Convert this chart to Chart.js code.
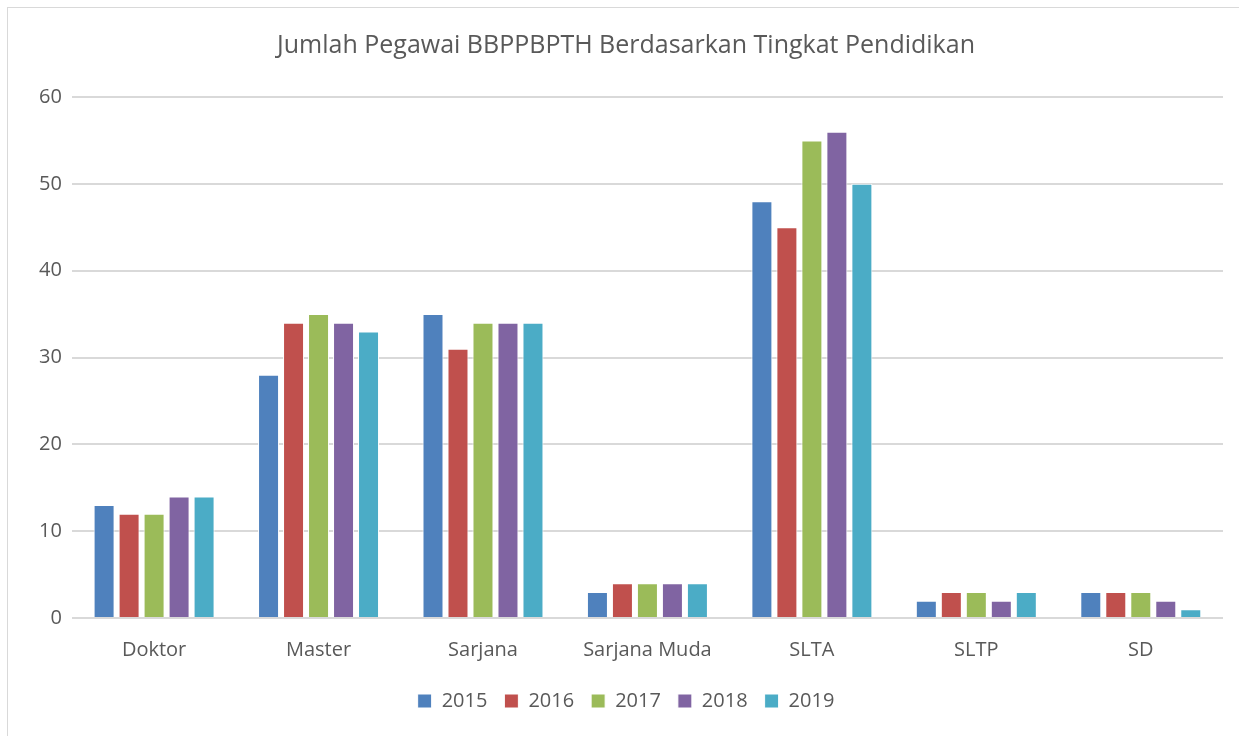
<!DOCTYPE html>
<html>
<head>
<meta charset="utf-8">
<script src="https://cdn.jsdelivr.net/npm/chart.js@4/dist/chart.umd.min.js"></script>
<style>
  html, body { margin: 0; padding: 0; background: #fff; overflow: hidden; }
  #frame { position: absolute; left: 7px; top: 7px; width: 1250px; height: 750px; border: 1px solid #d9d9d9; box-sizing: border-box; }
  #wrap { position: absolute; left: 0; top: 0; width: 1239px; height: 736px; }
</style>
</head>
<body>
<div id="frame"></div>
<div id="wrap"><canvas id="barChart"></canvas></div>
<script>
var categories = ['Doktor', 'Master', 'Sarjana', 'Sarjana Muda', 'SLTA', 'SLTP', 'SD'];
var years = ['2015', '2016', '2017', '2018', '2019'];
var colors = ['#4f81bd', '#c0504d', '#9bbb59', '#8064a2', '#4bacc6'];
var v2015 = [13, 28, 35, 3, 48, 2, 3];
var v2016 = [12, 34, 31, 4, 45, 3, 3];
var v2017 = [12, 35, 34, 4, 55, 3, 3];
var v2018 = [14, 34, 34, 4, 56, 2, 2];
var v2019 = [14, 33, 34, 4, 50, 3, 1];
var yTicks = [0, 10, 20, 30, 40, 50, 60];

var series = [v2015, v2016, v2017, v2018, v2019];
var textColor = '#595959';
var fontFamily = "'Open Sans', 'Noto Sans', sans-serif";

var ctx = document.getElementById('barChart').getContext('2d');
var myChart = new Chart(ctx, {
	type: 'bar',
	data: {
		labels: categories,
		datasets: years.map(function(y, i) {
			return {
				label: y,
				data: series[i],
				backgroundColor: colors[i],
				borderColor: '#ffffff',
				borderWidth: 1,
				categoryPercentage: 0.76,
				barPercentage: 0.84
			};
		})
	},
	options: {
		responsive: true,
		maintainAspectRatio: false,
		animation: false,
		layout: { padding: { left: 29, right: 16, top: 0, bottom: 15 } },
		plugins: {
			title: {
				display: true,
				text: 'Jumlah Pegawai BBPPBPTH Berdasarkan Tingkat Pendidikan',
				color: textColor,
				font: { family: fontFamily, size: 25, weight: 'normal' },
				padding: { top: 31, bottom: 36 }
			},
			legend: {
				position: 'bottom',
				labels: {
					color: textColor,
					font: { family: fontFamily, size: 20 },
					boxWidth: 14,
					boxHeight: 14,
					padding: 17
				}
			},
			tooltip: { enabled: false }
		},
		scales: {
			x: {
				grid: { display: false },
				border: { display: false },
				ticks: { color: textColor, font: { family: fontFamily, size: 20 }, padding: 12 }
			},
			y: {
				min: 0,
				max: 60,
				afterBuildTicks: function(axis) {
					axis.ticks = yTicks.map(function(v) { return { value: v }; });
				},
				grid: { color: '#d9d9d9', lineWidth: 2, drawTicks: false },
				border: { display: false },
				ticks: { color: textColor, font: { family: fontFamily, size: 20 }, padding: 10 }
			}
		}
	}
});
</script>
</body>
</html>
